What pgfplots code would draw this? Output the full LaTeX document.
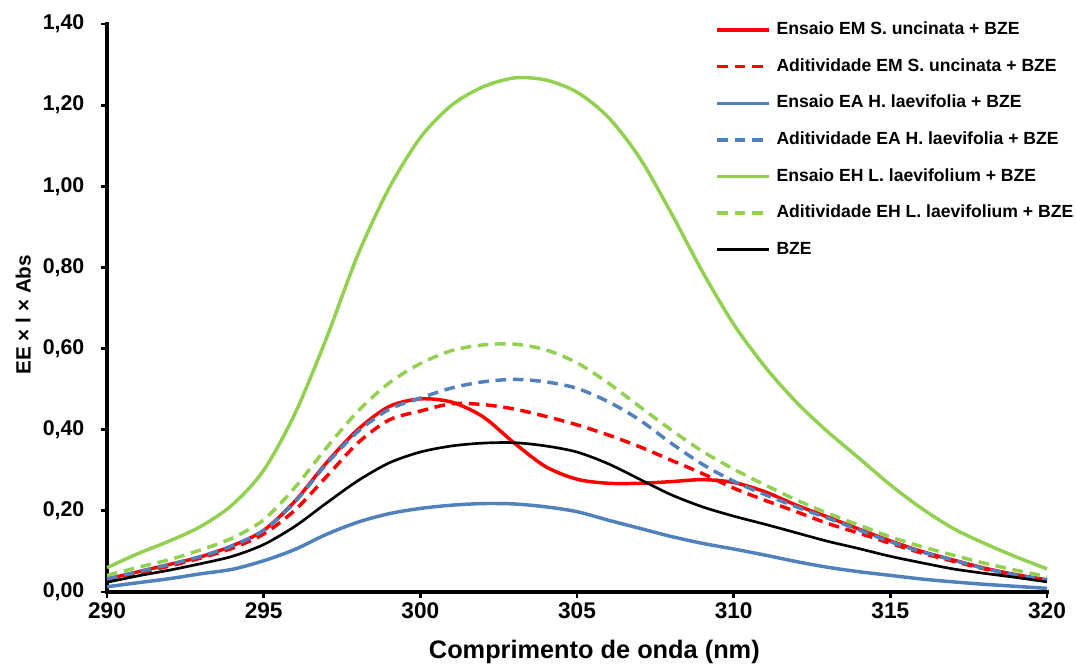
\documentclass[border=0pt]{standalone}
\usepackage{pgfplots}
\pgfplotsset{compat=1.18}
\usepackage{fontspec}
\setmainfont{Liberation Sans}

\definecolor{cRed}{HTML}{FF0000}
\definecolor{cBlue}{HTML}{4F81BD}
\definecolor{cGreen}{HTML}{92D050}

% x = wavelength (nm), y = EE x l x Abs
\pgfplotstableread{
x    emE    emA    eaE    eaA    ehE    ehA    bze
290  0.032  0.030  0.013  0.032  0.060  0.041  0.024
291  0.050  0.047  0.023  0.050  0.095  0.061  0.040
292  0.068  0.064  0.033  0.068  0.126  0.080  0.054
293  0.087  0.084  0.045  0.088  0.162  0.104  0.070
294  0.114  0.108  0.056  0.114  0.215  0.133  0.088
295  0.152  0.143  0.077  0.152  0.300  0.178  0.117
296  0.224  0.202  0.105  0.222  0.440  0.258  0.162
297  0.318  0.284  0.142  0.315  0.625  0.355  0.219
298  0.400  0.367  0.172  0.395  0.830  0.445  0.274
299  0.457  0.424  0.193  0.450  0.995  0.515  0.318
300  0.476  0.446  0.206  0.478  1.120  0.563  0.345
301  0.468  0.464  0.214  0.503  1.200  0.595  0.360
302  0.432  0.462  0.218  0.518  1.245  0.609  0.367
303  0.367  0.451  0.217  0.524  1.267  0.611  0.368
304  0.309  0.433  0.210  0.518  1.262  0.597  0.360
305  0.278  0.412  0.198  0.502  1.232  0.565  0.345
306  0.268  0.387  0.177  0.469  1.170  0.515  0.316
307  0.268  0.358  0.157  0.424  1.070  0.457  0.278
308  0.272  0.325  0.137  0.367  0.935  0.400  0.240
309  0.277  0.292  0.120  0.315  0.790  0.347  0.210
310  0.270  0.256  0.106  0.273  0.660  0.303  0.187
311  0.247  0.226  0.091  0.240  0.555  0.264  0.167
312  0.214  0.198  0.075  0.210  0.468  0.227  0.146
313  0.185  0.169  0.061  0.182  0.395  0.194  0.125
314  0.155  0.145  0.050  0.153  0.330  0.165  0.107
315  0.126  0.120  0.041  0.124  0.264  0.136  0.088
316  0.100  0.096  0.032  0.099  0.206  0.112  0.072
317  0.079  0.076  0.025  0.079  0.157  0.091  0.057
318  0.059  0.057  0.019  0.058  0.120  0.071  0.046
319  0.043  0.041  0.014  0.042  0.087  0.054  0.036
320  0.030  0.029  0.009  0.030  0.057  0.038  0.025
}\spectra

\begin{document}
\begin{tikzpicture}
\begin{axis}[
    scale only axis,
    width=705pt, height=426pt,
    xmin=290, xmax=320,
    ymin=0, ymax=1.4,
    xtick={290,295,...,320},
    ytick={0,0.2,...,1.4},
    axis lines*=left,
    axis line style={line width=2.6pt, line cap=rect},
    tick style={line width=2.2pt, black},
    tick align=outside,
    major tick length=4.5pt,
    clip=false,
    /pgf/number format/assume math mode=true,
    yticklabel style={font=\bfseries\fontsize{16}{19}\selectfont, xshift=-9pt,
        /pgf/number format/.cd, fixed, fixed zerofill, precision=2, use comma},
    xticklabel style={font=\bfseries\fontsize{17}{20}\selectfont,
        /pgf/number format/.cd, 1000 sep={}},
    xlabel={Comprimento de onda (nm)},
    ylabel={EE × l × Abs},
    xlabel style={font=\bfseries\fontsize{19}{22}\selectfont,
        at={(axis description cs:0.5,-0.106)}, anchor=center, xshift=13pt},
    ylabel style={font=\bfseries\fontsize{15.5}{18}\selectfont,
        at={(axis description cs:-0.089,0.5)}, anchor=center, xshift=-5pt},
    legend cell align=left,
    legend style={draw=none, fill=none, inner sep=0pt,
        at={(axis description cs:0.647,1.0095)}, anchor=north west,
        font=\bfseries\fontsize{13.2}{15}\selectfont,
        row sep=10.4pt,
        nodes={inner sep=2pt, text height=10pt, text depth=3pt},
        /tikz/every odd column/.append style={column sep=2.2pt}},
    legend image code/.code={\draw[#1] (0pt,0pt) -- (39pt,0pt);},
    every axis plot/.append style={line width=2.6pt, smooth},
]
\addplot[color=cRed] table[x=x, y=emE] {\spectra};
\addlegendentry{Ensaio EM S. uncinata + BZE}
\addplot[color=cRed, dash pattern=on 8pt off 5pt] table[x=x, y=emA] {\spectra};
\addlegendentry{Aditividade EM S. uncinata + BZE}
\addplot[color=cBlue] table[x=x, y=eaE] {\spectra};
\addlegendentry{Ensaio EA H. laevifolia + BZE}
\addplot[color=cBlue, dash pattern=on 8pt off 5pt] table[x=x, y=eaA] {\spectra};
\addlegendentry{Aditividade EA H. laevifolia + BZE}
\addplot[color=cGreen] table[x=x, y=ehE] {\spectra};
\addlegendentry{Ensaio EH L. laevifolium + BZE}
\addplot[color=cGreen, dash pattern=on 8pt off 5pt] table[x=x, y=ehA] {\spectra};
\addlegendentry{Aditividade EH L. laevifolium + BZE}
\addplot[color=black, line width=2pt] table[x=x, y=bze] {\spectra};
\addlegendentry{BZE}
\end{axis}
\pgfresetboundingbox
\path ([shift={(-80.25pt,-54.75pt)}]current axis.south west)
    rectangle ([shift={(21.75pt,18pt)}]current axis.north east);
\end{tikzpicture}
\end{document}
